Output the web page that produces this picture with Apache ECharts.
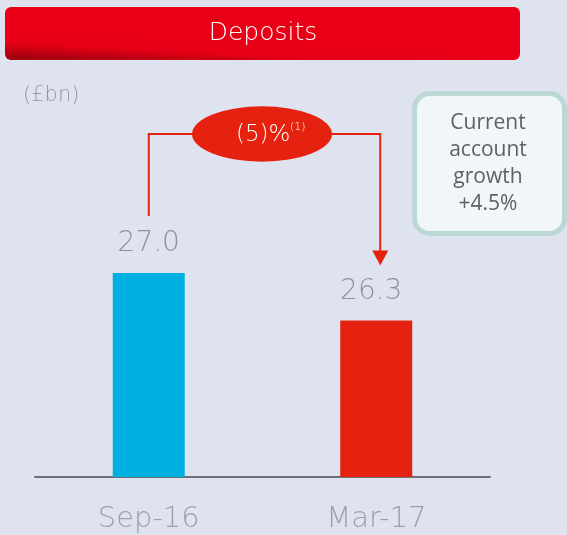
<!DOCTYPE html>
<html>
<head>
<meta charset="utf-8">
<script src="https://cdn.jsdelivr.net/npm/echarts@6/dist/echarts.min.js"></script>
<style>
  html, body { margin: 0; padding: 0; background: #dfe3ef; }
  #main { width: 567px; height: 535px; }
</style>
</head>
<body>
<div id="main"></div>
<script>
const categories = ['Sep-16', 'Mar-17']
const deposits = [27.0, 26.3]
const barColors = ['#00b0e2', '#e5220f']
const changeText = '(5)%'
const noteText = ['Current', 'account', 'growth', '+4.5%']

const THIN = '"DejaVu Sans", Lato, sans-serif'
const FONT = '"Open Sans", Lato, sans-serif'
const chart = echarts.init(document.getElementById('main'))

const option = {
  backgroundColor: '#dfe3ef',
  animation: false,
  grid: { left: 35, right: 77, top: 69, bottom: 58 },
  xAxis: {
    type: 'category',
    data: categories,
    axisLine: { lineStyle: { color: '#6b7177', width: 2 } },
    axisTick: { show: false },
    axisLabel: { color: '#9aa1aa', fontSize: 29, fontFamily: THIN, fontWeight: 200, margin: 28 }
  },
  yAxis: {
    type: 'value', min: 24, max: 30,
    show: false
  },
  series: [{
    type: 'bar',
    barWidth: 72,
    data: deposits.map((v, i) => ({ value: v, itemStyle: { color: barColors[i] } })),
    label: {
      show: true, position: 'top', distance: 15,
      formatter: p => p.value.toFixed(1),
      color: '#8c949d', fontSize: 28, fontFamily: THIN, fontWeight: 200
    },
    labelLayout: p => ({ dx: p.dataIndex === 0 ? 0 : -5 })
  }]
}
chart.setOption(option)

// annotation placed from bar positions
const p0 = chart.convertToPixel({ seriesIndex: 0 }, [0, deposits[0]])
const p1 = chart.convertToPixel({ seriesIndex: 0 }, [1, deposits[1]])
const lx = p0[0], rx = p1[0] + 4
const ly = 134, ex = 262
const red = '#e5220f'

chart.setOption({
  graphic: [
    {
      type: 'rect', left: 5, top: 7,
      shape: { width: 515, height: 53, r: 6 },
      style: {
        fill: new echarts.graphic.LinearGradient(0, 1, 0.003, 0.45, [
          { offset: 0, color: '#940010' },
          { offset: 0.6, color: '#e60015' },
          { offset: 1, color: '#e90016' }
        ])
      }
    },
    {
      type: 'text', x: 263, y: 33,
      style: { text: 'Deposits', fill: '#ffffff', fontSize: 25, fontFamily: THIN, fontWeight: 200, align: 'center', verticalAlign: 'middle' }
    },
    {
      type: 'text', x: 23, y: 96,
      style: { text: '(£bn)', fill: '#9098a2', fontSize: 21, fontFamily: THIN, fontWeight: 200, verticalAlign: 'middle' }
    },
    {
      type: 'polyline',
      shape: { points: [[lx, p0[1] - 57], [lx, ly], [rx, ly], [rx, p1[1] - 64]] },
      style: { stroke: red, lineWidth: 2, fill: null }
    },
    {
      type: 'polygon',
      shape: { points: [[rx - 8, p1[1] - 70], [rx + 8, p1[1] - 70], [rx, p1[1] - 55]] },
      style: { fill: red }
    },
    {
      type: 'circle', x: ex, y: ly, scaleY: 0.395,
      shape: { cx: 0, cy: 0, r: 70 },
      style: { fill: red }
    },
    {
      type: 'text', x: 236, y: ly + 1,
      style: { text: changeText, fill: '#ffffff', fontSize: 23, fontFamily: THIN, fontWeight: 200, verticalAlign: 'middle' }
    },
    {
      type: 'text', x: 290, y: ly - 7,
      style: { text: '(1)', fill: '#ffffff', fontSize: 11, fontFamily: THIN, fontWeight: 200, verticalAlign: 'middle' }
    },
    {
      type: 'rect', left: 412, top: 91,
      shape: { width: 150, height: 140, r: 15 },
      style: { fill: '#f1f6f8', stroke: '#bcd8d6', lineWidth: 5 }
    },
    {
      type: 'text', x: 488, y: 164,
      style: {
        text: noteText.join('\n'), fill: '#5b6267', fontSize: 21, lineHeight: 27,
        fontFamily: FONT, align: 'center', verticalAlign: 'middle'
      }
    }
  ]
})
</script>
</body>
</html>
